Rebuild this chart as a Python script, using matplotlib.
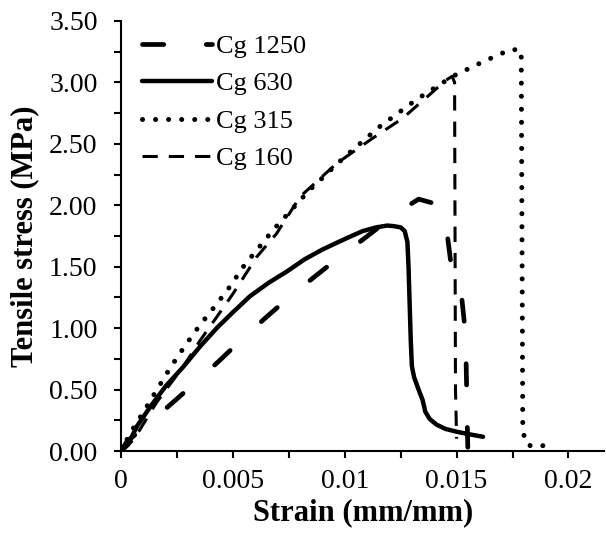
import matplotlib.pyplot as plt
from matplotlib.ticker import MultipleLocator, FormatStrFormatter

# strain (mm/mm) and tensile stress (MPa)
strain_1250 = [0, 0.00025, 0.0012, 0.00234, 0.0034, 0.00442, 0.0054, 0.00643, 0.0075, 0.00859, 0.0097, 0.0108,
               0.0118, 0.0126, 0.0133, 0.0141, 0.01452, 0.0148, 0.0152, 0.0154, 0.01545, 0.01548, 0.0155]
stress_1250 = [0, 0.076, 0.22, 0.40, 0.57, 0.74, 0.91, 1.08, 1.25, 1.41, 1.57, 1.72,
               1.86, 1.97, 2.05, 2.01, 1.85, 1.45, 1.30, 0.95, 0.50, 0.20, 0.03]

strain_630 = [0, 0.0003, 0.0007, 0.0013, 0.002, 0.00278, 0.0035, 0.00427, 0.005, 0.00576, 0.0066, 0.0074,
              0.0082, 0.009, 0.0097, 0.0103, 0.0108, 0.0114, 0.0119, 0.0122, 0.0125, 0.01268, 0.0128,
              0.01285, 0.0129, 0.01295, 0.013, 0.0131, 0.0132, 0.0133, 0.01348, 0.0136, 0.0138, 0.0141,
              0.0145, 0.015, 0.0156, 0.01618]
stress_630 = [0, 0.05, 0.2, 0.36, 0.53, 0.686, 0.845, 1.0, 1.13, 1.26, 1.37, 1.46,
              1.56, 1.64, 1.70, 1.75, 1.79, 1.82, 1.835, 1.83, 1.82, 1.79, 1.70,
              1.5, 1.2, 0.9, 0.69, 0.6, 0.55, 0.5, 0.415, 0.32, 0.26, 0.215,
              0.18, 0.157, 0.135, 0.116]

strain_315 = [0, 0.0004, 0.00097, 0.00159, 0.00219, 0.00283, 0.0035, 0.0042, 0.00487, 0.0055, 0.0068, 0.0084,
              0.01, 0.01156, 0.0132, 0.01483, 0.0162, 0.01744, 0.01789, 0.01796, 0.0181, 0.0184, 0.0192]
stress_315 = [0, 0.144, 0.31, 0.497, 0.676, 0.85, 1.02, 1.18, 1.34, 1.51, 1.80, 2.12,
              2.395, 2.64, 2.86, 3.05, 3.17, 3.27, 3.26, 0.17, 0.06, 0.035, 0.05]

strain_160 = [0, 0.00055, 0.0016, 0.00277, 0.00353, 0.00427, 0.005, 0.00606, 0.00695, 0.008, 0.00963, 0.0112,
              0.0126, 0.01454, 0.0148, 0.01491, 0.01495, 0.015]
stress_160 = [0, 0.09, 0.40, 0.686, 0.90, 1.09, 1.28, 1.58, 1.77, 2.07, 2.34, 2.54,
              2.71, 3.02, 3.05, 3.0, 0.5, 0.1]

plt.rcParams['font.family'] = ['Liberation Serif', 'DejaVu Serif']

fig = plt.figure(figsize=(6.06, 5.34), dpi=100)
ax = fig.add_axes([0.2, 0.1554, 0.797, 0.8053])

ax.plot(strain_1250, stress_1250, 'k', lw=3.4, dashes=(4.5, 9), dash_capstyle='round', label='Cg 1250')
ax.plot(strain_630, stress_630, 'k', lw=3.2, solid_capstyle='round', solid_joinstyle='round', label='Cg 630')
ax.plot(strain_315, stress_315, 'k', lw=3.6, dashes=(0.01, 2.6), dash_capstyle='round', label='Cg 315')
ax.plot(strain_160, stress_160, 'k', lw=2.2, dashes=(5, 3.6), label='Cg 160')

ax.set_xlim(0, 0.0216)
ax.set_ylim(0, 3.5)
ax.xaxis.set_major_locator(MultipleLocator(0.005))
ax.xaxis.set_minor_locator(MultipleLocator(0.0025))
ax.yaxis.set_major_locator(MultipleLocator(0.5))
ax.yaxis.set_minor_locator(MultipleLocator(0.25))
ax.yaxis.set_major_formatter(FormatStrFormatter('%.2f'))
ax.set_xticks([0, 0.005, 0.01, 0.015, 0.02])
ax.set_xticklabels(['0', '0.005', '0.01', '0.015', '0.02'])

ax.spines['right'].set_visible(False)
ax.spines['top'].set_visible(False)
ax.spines['left'].set_linewidth(1.5)
ax.spines['bottom'].set_linewidth(1.5)
ax.tick_params(which='both', direction='out', length=5, width=1.5, labelsize=20)
ax.tick_params(axis='y', pad=12)
ax.tick_params(axis='x', pad=8)

ax.set_xlabel('Strain (mm/mm)', fontsize=22, fontweight='bold', labelpad=3)
ax.set_ylabel('Tensile stress (MPa)', fontsize=22, fontweight='bold', labelpad=7)

ax.legend(loc='upper left', bbox_to_anchor=(0.022, 0.993), frameon=False, fontsize=19,
          handlelength=2.65, handletextpad=0.15, labelspacing=0.53, borderaxespad=0)

fig.savefig('out.png', dpi=100)
